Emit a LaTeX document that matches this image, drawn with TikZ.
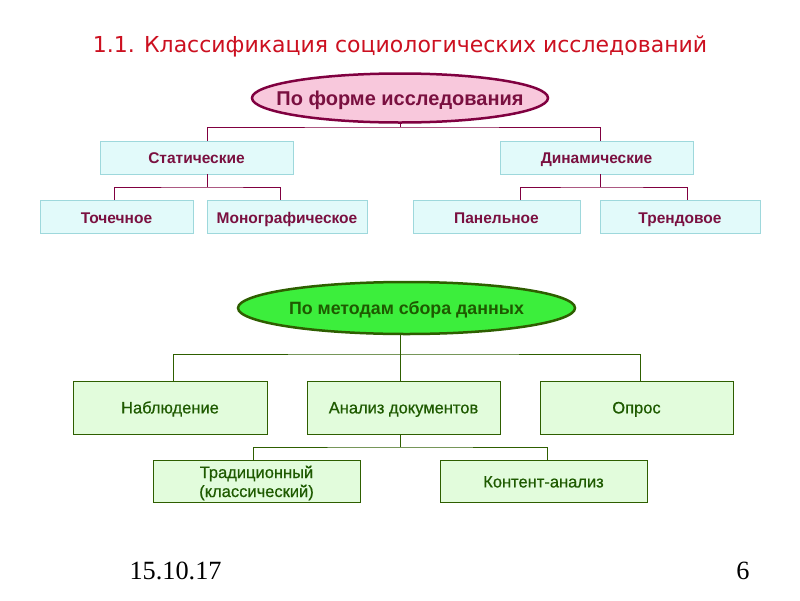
\documentclass[tikz,border=0pt]{standalone}
\usepackage{fontspec}
\setmainfont{Liberation Sans}
\newfontfamily\titlefont{DejaVu Sans}
\newfontfamily\datefont{Liberation Serif}
\newfontfamily\greenfont[FakeBold=0.6]{Liberation Sans}
\usetikzlibrary{shapes.geometric}
\definecolor{titlered}{HTML}{CC1020}
\definecolor{magline}{HTML}{800040}
\definecolor{magtext}{HTML}{7A1040}
\definecolor{pinkfill}{HTML}{F8C8DC}
\definecolor{cyanfill}{HTML}{E2FAFA}
\definecolor{cyanline}{HTML}{9ED8DC}
\definecolor{greenline}{HTML}{2E5E00}
\definecolor{greentext}{HTML}{1E5A00}
\definecolor{brightgreen}{HTML}{3CEE3C}
\definecolor{lightgreen}{HTML}{E2FCDC}
\begin{document}
\begin{tikzpicture}[x=1pt,y=-1pt,
  oval1/.style={ellipse,draw=magline,line width=2.5pt,fill=pinkfill,minimum width=296pt,minimum height=49pt,inner sep=0pt},
  oval2/.style={ellipse,draw=greenline,line width=2.5pt,fill=brightgreen,minimum width=337pt,minimum height=52pt,inner sep=0pt},
  oval1text/.style={text=magtext,font=\fontsize{20}{22}\selectfont\bfseries,text height=14.3pt,text depth=0pt,inner sep=0pt},
  oval2text/.style={text=greentext,font=\fontsize{17.8}{20}\selectfont\bfseries,text height=12.7pt,text depth=0pt,inner sep=0pt},
  cbox/.style={rectangle,draw=cyanline,line width=0.8pt,fill=cyanfill,minimum height=33pt,inner sep=0pt,text=magtext,font=\fontsize{15.5}{17}\selectfont\bfseries,text height=12pt,text depth=0pt},
  gbox/.style={rectangle,draw=greenline,line width=0.8pt,fill=lightgreen,inner sep=0pt,text=greentext,font=\greenfont\fontsize{16.5}{19}\selectfont,text depth=0pt},
  mline/.style={draw=magline,line width=0.9pt},
  gline/.style={draw=greenline,line width=0.9pt}]
\useasboundingbox (0,0) rectangle (800,600);
\fill[white] (0,0) rectangle (800,600);
\node[text=titlered,font=\titlefont\fontsize{22}{26}\selectfont] (title) at (400,46) {1.1. Классификация социологических исследований};

% top part
\node[oval1] (form) at (400,98) {};
\node[oval1text] (formtext) at (form.center) {По форме исследования};
\node[cbox,minimum width=193pt] (stat) at (196.5,157.5) {Статические};
\node[cbox,minimum width=193pt] (dyn) at (596.5,157.5) {Динамические};
\node[cbox,minimum width=153pt] (toch) at (116.5,217) {Точечное};
\node[cbox,minimum width=160pt] (mono) at (287,217) {Монографическое};
\node[cbox,minimum width=167pt] (pan) at (496.5,217) {Панельное};
\node[cbox,minimum width=160pt] (trend) at (680,217) {Трендовое};

\coordinate (j1) at (400,127);
\draw[mline] (form.south) -- (j1);
\draw[mline] (stat.north -| 207,0) |- (j1) -| (dyn.north -| 600,0);
\draw[mline] (stat.south -| 207,0) -- (207,187);
\draw[mline] (toch.north -| 114,0) |- (207,187) -| (mono.north -| 280,0);
\draw[mline] (dyn.south -| 600,0) -- (600,187);
\draw[mline] (pan.north -| 520,0) |- (600,187) -| (trend.north -| 687,0);

% bottom part
\node[oval2] (meth) at (406.5,308) {};
\node[oval2text] (methtext) at (meth.center) {По методам сбора данных};
\node[gbox,minimum width=194pt,minimum height=53pt,text height=11.8pt] (nab) at (170,407.5) {Наблюдение};
\node[gbox,minimum width=193pt,minimum height=53pt,text height=11.8pt] (anal) at (403.5,407.5) {Анализ документов};
\node[gbox,minimum width=193pt,minimum height=53pt,text height=11.8pt] (opr) at (636.5,407.5) {Опрос};
\node[gbox,minimum width=207pt,minimum height=42pt,align=center,text height=31pt] (trad) at (256.5,481.5) {Традиционный\\(классический)};
\node[gbox,minimum width=207pt,minimum height=42pt,text height=11.8pt] (kont) at (543.5,481.5) {Контент-анализ};

\coordinate (j2) at (400,354);
\draw[gline] (meth.south -| 400,0) -- (j2);
\draw[gline] (nab.north -| 173,0) |- (j2) -| (opr.north -| 640,0);
\draw[gline] (j2) -- (anal.north -| 400,0);
\coordinate (j3) at (400,447);
\draw[gline] (anal.south -| 400,0) -- (j3);
\draw[gline] (trad.north -| 253,0) |- (j3) -| (kont.north -| 547,0);

% footer
\node[anchor=base west,font=\datefont\fontsize{26.3}{30}\selectfont] (date) at (126,579) {15.10.17};
\node[anchor=base east,font=\datefont\fontsize{26.3}{30}\selectfont] (page) at (753,579) {6};
\end{tikzpicture}
\end{document}
